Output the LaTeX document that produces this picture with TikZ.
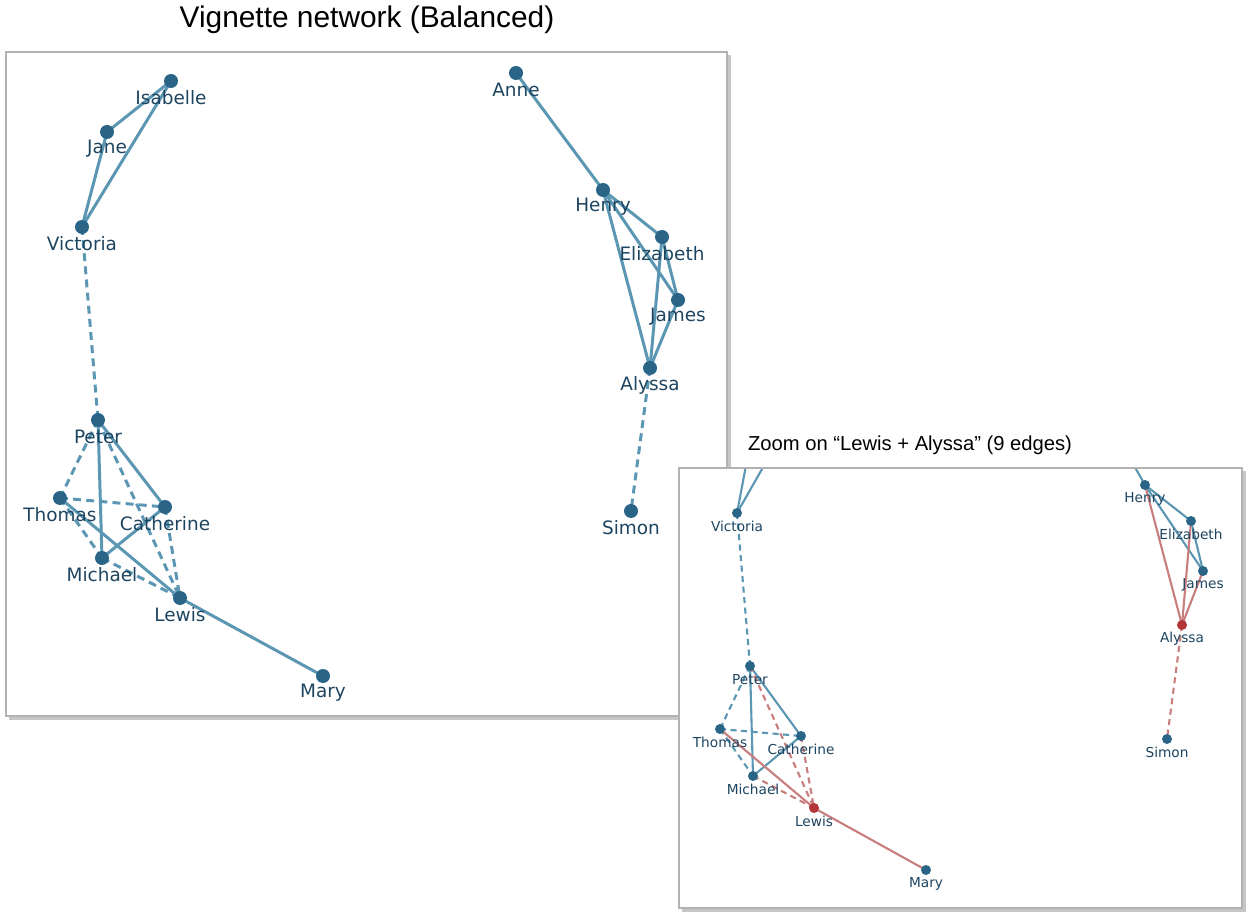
\documentclass[tikz,border=0pt]{standalone}
\usepackage{fontspec}
\setmainfont{DejaVu Sans}
\newfontfamily\titlefont{Liberation Sans}
\begin{document}
\begin{tikzpicture}[x=0.02cm,y=-0.02cm,
  edgeM/.style={draw=eblue,line width=1.7pt},
  edgeZ/.style={draw=eblue,line width=1.2pt},
  dsh/.style={dash pattern=on 4.5pt off 3pt},
  dshz/.style={dash pattern=on 3.5pt off 2.5pt},
  red/.style={draw=ered},
  vm/.style={circle,fill=nblue,inner sep=0pt,minimum size=0.28cm},
  vz/.style={circle,fill=nblue,inner sep=0pt,minimum size=0.2cm},
  vzr/.style={vz,fill=nred},
  lm/.style={text=lbl,font=\fontsize{10.5}{12}\selectfont},
  lz/.style={text=lbl,font=\fontsize{7.8}{9}\selectfont},
  panel/.style={fill=white,draw=gray!60,line width=0.6pt}]
\definecolor{eblue}{HTML}{5B97B3}
\definecolor{nblue}{HTML}{2A6588}
\definecolor{lbl}{HTML}{1E4560}
\definecolor{ered}{HTML}{C97E7E}
\definecolor{nred}{HTML}{B23538}
\useasboundingbox (0,0) rectangle (1250,918);
% main panel
\fill[gray!45] (9,55) rectangle (731,720);
\draw[panel] (6,52) rectangle (727,716);
\node[font=\titlefont\fontsize{17}{20}\selectfont] (t1) at (367,20) {Vignette network (Balanced)};
\foreach \n/\x/\y in {Isabelle/171/81,Jane/107/132,Victoria/82/227,Peter/98/420,Thomas/60/498,Catherine/165/507,Michael/102/558,Lewis/180/598,Mary/323/676,Anne/516/73,Henry/603/190,Elizabeth/662/237,James/678/300,Alyssa/650/368,Simon/631/511}
  \coordinate (m\n) at (\x,\y);
\begin{scope}[edgeM]
\draw (mIsabelle)--(mJane); \draw (mIsabelle)--(mVictoria); \draw (mJane)--(mVictoria);
\draw[dsh] (mVictoria)--(mPeter);
\draw[dsh] (mPeter)--(mThomas); \draw (mPeter)--(mMichael); \draw (mPeter)--(mCatherine); \draw[dsh] (mPeter)--(mLewis);
\draw[dsh] (mThomas)--(mCatherine); \draw (mThomas)--(mLewis); \draw[dsh] (mThomas)--(mMichael);
\draw (mMichael)--(mCatherine); \draw[dsh] (mMichael)--(mLewis); \draw[dsh] (mCatherine)--(mLewis);
\draw (mLewis)--(mMary);
\draw (mAnne)--(mHenry); \draw (mHenry)--(mElizabeth); \draw (mHenry)--(mJames); \draw (mHenry)--(mAlyssa);
\draw (mElizabeth)--(mJames); \draw (mElizabeth)--(mAlyssa); \draw (mJames)--(mAlyssa);
\draw[dsh] (mAlyssa)--(mSimon);
\end{scope}
\foreach \n in {Isabelle,Jane,Victoria,Peter,Thomas,Catherine,Michael,Lewis,Mary,Anne,Henry,Elizabeth,James,Alyssa,Simon}{
  \node[vm] (nm\n) at (m\n) {};
  \node[lm] (lm\n) at ([yshift=-0.34cm]m\n) {\n};}
% zoom panel
\node[font=\titlefont\fontsize{11.5}{14}\selectfont] (t2) at (910,445) {Zoom on “Lewis + Alyssa” (9 edges)};
\fill[gray!45] (682,471) rectangle (1246,912);
\draw[panel] (679,468) rectangle (1242,908);
\foreach \n/\x/\y in {Victoria/737/513,Peter/750/666,Thomas/720/729,Catherine/801/736,Michael/753/776,Lewis/814/808,Mary/926/870,Henry/1145/485,Elizabeth/1191/521,James/1203/571,Alyssa/1182/625,Simon/1167/739}
  \coordinate (z\n) at (\x,\y);
\coordinate (zJane) at (748,455);
\coordinate (zIsabelle) at (770,455);
\coordinate (zAnne) at (1128,455);
\begin{scope}
\clip (679,469) rectangle (1242,908);
\begin{scope}[edgeZ]
\draw (zJane)--(zVictoria); \draw (zIsabelle)--(zVictoria); \draw (zAnne)--(zHenry);
\draw[dshz] (zVictoria)--(zPeter);
\draw[dshz] (zPeter)--(zThomas); \draw (zPeter)--(zMichael); \draw (zPeter)--(zCatherine);
\draw[dshz] (zThomas)--(zCatherine); \draw[dshz] (zThomas)--(zMichael);
\draw (zMichael)--(zCatherine);
\draw (zHenry)--(zElizabeth); \draw (zHenry)--(zJames); \draw (zElizabeth)--(zJames);
\draw[red,dshz] (zPeter)--(zLewis); \draw[red] (zThomas)--(zLewis);
\draw[red,dshz] (zMichael)--(zLewis); \draw[red,dshz] (zCatherine)--(zLewis);
\draw[red] (zLewis)--(zMary);
\draw[red] (zHenry)--(zAlyssa); \draw[red] (zElizabeth)--(zAlyssa); \draw[red] (zJames)--(zAlyssa);
\draw[red,dshz] (zAlyssa)--(zSimon);
\end{scope}
\end{scope}
\foreach \n in {Victoria,Peter,Thomas,Catherine,Michael,Mary,Henry,Elizabeth,James,Simon}{
  \node[vz] (nz\n) at (z\n) {};
  \node[lz] (lz\n) at ([yshift=-0.27cm]z\n) {\n};}
\foreach \n in {Lewis,Alyssa}{
  \node[vzr] (nz\n) at (z\n) {};
  \node[lz] (lz\n) at ([yshift=-0.27cm]z\n) {\n};}
\end{tikzpicture}
\end{document}
